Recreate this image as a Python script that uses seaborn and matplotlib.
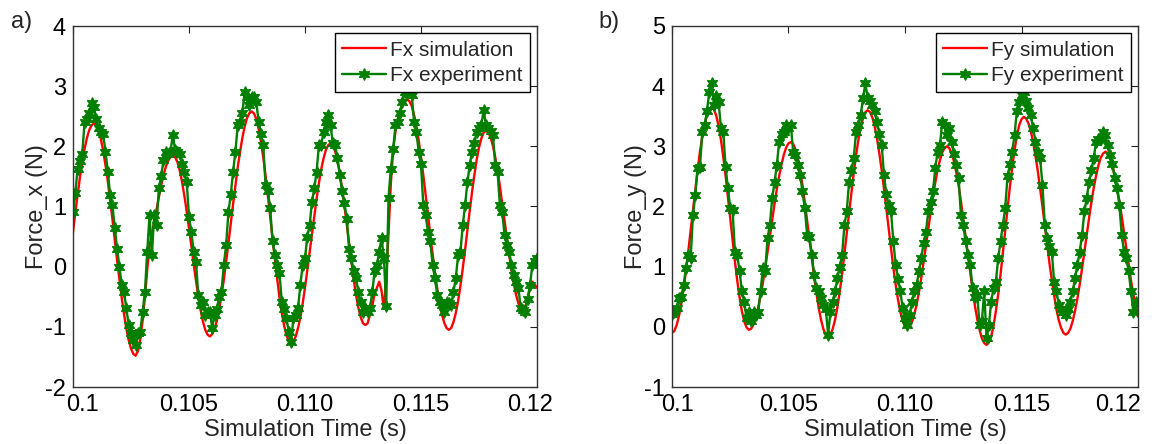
import numpy as np
import matplotlib
matplotlib.use("Agg")
import matplotlib.pyplot as plt
import matplotlib.transforms as mtransforms
import seaborn as sns

# ---------------- data ----------------
# sampling times (s), one sample every 0.1 ms
time_s = np.round(np.linspace(0.1000, 0.1200, 201), 4)

fx_simulation = [
    0.57, 0.90, 1.20, 1.49, 1.74, 1.96, 2.14, 2.27, 2.35, 2.38,
    2.35, 2.26, 2.12, 1.93, 1.69, 1.42, 1.11, 0.79, 0.45, 0.11,
    -0.21, -0.52, -0.79, -1.03, -1.22, -1.36, -1.45, -1.48, -1.40, -1.20,
    -0.90, -0.50, -0.05, 0.35, 0.55, 0.75, 0.95, 1.15, 1.35, 1.52,
    1.66, 1.76, 1.82, 1.85, 1.82, 1.74, 1.60, 1.41, 1.18, 0.92,
    0.64, 0.35, 0.05, -0.23, -0.49, -0.72, -0.91, -1.05, -1.13, -1.16,
    -1.12, -1.04, -0.90, -0.71, -0.48, -0.22, 0.08, 0.39, 0.72, 1.04,
    1.35, 1.65, 1.91, 2.14, 2.33, 2.47, 2.55, 2.58, 2.55, 2.45,
    2.29, 2.08, 1.82, 1.51, 1.18, 0.83, 0.48, 0.13, -0.20, -0.51,
    -0.77, -0.98, -1.14, -1.24, -1.27, -1.24, -1.16, -1.02, -0.84, -0.61,
    -0.35, -0.06, 0.24, 0.54, 0.84, 1.13, 1.39, 1.62, 1.80, 1.94,
    2.02, 2.05, 2.02, 1.92, 1.76, 1.55, 1.30, 1.01, 0.70, 0.38,
    0.07, -0.22, -0.47, -0.68, -0.84, -0.94, -0.97, -0.94, -0.80, -0.65,
    -0.45, -0.35, -0.25, -0.40, -0.70, -0.20, 0.55, 1.38, 1.94, 2.25,
    2.45, 2.60, 2.70, 2.76, 2.78, 2.75, 2.67, 2.52, 2.33, 2.10,
    1.82, 1.52, 1.20, 0.87, 0.53, 0.21, -0.09, -0.37, -0.60, -0.79,
    -0.93, -1.02, -1.05, -1.02, -0.92, -0.77, -0.57, -0.32, -0.03, 0.28,
    0.61, 0.93, 1.24, 1.52, 1.78, 1.98, 2.13, 2.23, 2.26, 2.23,
    2.15, 2.01, 1.82, 1.60, 1.34, 1.06, 0.77, 0.48, 0.20, -0.06,
    -0.28, -0.47, -0.61, -0.69, -0.72, -0.66, -0.52, -0.36, -0.25, -0.30,
    -0.35,
]

fx_experiment = [
    0.91, 1.22, 1.63, 1.75, 1.88, 2.41, 2.45, 2.55, 2.72, 2.66,
    2.45, 2.30, 2.24, 2.20, 1.91, 1.58, 1.19, 1.02, 0.64, 0.30,
    0.00, -0.30, -0.42, -0.69, -0.97, -1.11, -1.22, -1.30, -1.10, -1.08,
    -0.75, -0.42, 0.25, 0.86, 0.19, 0.86, 0.69, 1.30, 1.50, 1.77,
    1.91, 1.88, 1.90, 2.19, 1.94, 1.90, 1.88, 1.70, 1.58, 1.41,
    0.83, 0.58, 0.25, 0.08, -0.47, -0.64, -0.58, -0.80, -0.75, -0.75,
    -1.02, -0.80, -0.70, -0.50, -0.42, 0.03, 0.36, 0.91, 1.20, 1.58,
    1.91, 2.35, 2.41, 2.55, 2.91, 2.82, 2.69, 2.82, 2.82, 2.74,
    2.41, 2.20, 2.02, 1.36, 1.25, 0.97, 0.42, 0.19, 0.03, -0.11,
    -0.58, -0.70, -0.86, -1.08, -1.25, -0.86, -0.80, -0.69, -0.30, 0.03,
    0.14, 0.50, 0.69, 1.08, 1.30, 1.58, 2.02, 2.02, 2.24, 2.40,
    2.52, 2.35, 2.05, 2.02, 1.80, 1.52, 1.25, 1.05, 0.80, 0.30,
    0.14, -0.08, -0.19, -0.42, -0.58, -0.75, -0.69, -0.75, -0.69, -0.42,
    -0.08, 0.03, 0.25, 0.47, 0.14, -0.66, 1.14, 1.63, 1.95, 2.35,
    2.41, 2.55, 2.74, 2.91, 2.88, 2.91, 2.85, 2.41, 2.24, 1.91,
    1.70, 1.02, 0.86, 0.58, 0.42, 0.03, -0.19, -0.47, -0.58, -0.64,
    -0.75, -0.58, -0.60, -0.64, -0.42, -0.19, 0.19, 0.25, 0.69, 1.02,
    1.40, 1.69, 1.91, 2.05, 2.24, 2.30, 2.35, 2.60, 2.35, 2.30,
    2.25, 2.19, 1.69, 1.58, 1.02, 0.91, 0.53, 0.36, 0.25, 0.03,
    -0.14, -0.25, -0.36, -0.69, -0.72, -0.75, -0.53, -0.30, 0.03, 0.10,
    0.14,
]

fy_simulation = [
    -0.10, -0.07, 0.03, 0.18, 0.39, 0.64, 0.94, 1.26, 1.60, 1.95,
    2.29, 2.61, 2.91, 3.16, 3.37, 3.52, 3.62, 3.65, 3.61, 3.51,
    3.34, 3.11, 2.83, 2.51, 2.16, 1.80, 1.44, 1.09, 0.77, 0.49,
    0.26, 0.09, -0.01, -0.05, -0.03, 0.04, 0.16, 0.32, 0.51, 0.73,
    0.98, 1.24, 1.51, 1.78, 2.04, 2.29, 2.51, 2.70, 2.86, 2.98,
    3.05, 3.07, 3.04, 2.95, 2.80, 2.60, 2.35, 2.07, 1.77, 1.46,
    1.14, 0.84, 0.56, 0.31, 0.11, -0.04, -0.13, -0.16, -0.13, -0.03,
    0.12, 0.33, 0.59, 0.88, 1.21, 1.55, 1.89, 2.24, 2.56, 2.85,
    3.11, 3.32, 3.47, 3.57, 3.60, 3.57, 3.48, 3.33, 3.13, 2.88,
    2.60, 2.29, 1.96, 1.62, 1.29, 0.98, 0.70, 0.45, 0.25, 0.10,
    0.01, -0.02, 0.01, 0.08, 0.21, 0.37, 0.58, 0.82, 1.08, 1.35,
    1.63, 1.90, 2.16, 2.40, 2.61, 2.77, 2.90, 2.97, 3.00, 2.97,
    2.89, 2.75, 2.57, 2.35, 2.09, 1.80, 1.50, 1.20, 0.90, 0.61,
    0.35, 0.13, -0.05, -0.19, -0.27, -0.30, -0.26, -0.16, 0.02, 0.26,
    0.54, 0.87, 1.23, 1.60, 1.96, 2.32, 2.65, 2.93, 3.17, 3.35,
    3.45, 3.49, 3.46, 3.38, 3.25, 3.07, 2.84, 2.59, 2.30, 2.00,
    1.68, 1.37, 1.06, 0.78, 0.52, 0.29, 0.11, -0.02, -0.10, -0.13,
    -0.10, -0.03, 0.10, 0.27, 0.47, 0.71, 0.97, 1.25, 1.53, 1.81,
    2.07, 2.31, 2.51, 2.68, 2.81, 2.88, 2.91, 2.89, 2.81, 2.69,
    2.52, 2.32, 2.09, 1.84, 1.57, 1.29, 1.02, 0.77, 0.54, 0.34,
    0.17,
]

fy_experiment = [
    0.22, 0.25, 0.31, 0.48, 0.50, 0.70, 0.97, 1.20, 1.14, 1.86,
    2.19, 2.64, 2.66, 3.24, 3.36, 3.58, 3.91, 4.05, 3.69, 3.83,
    3.74, 3.30, 3.24, 2.66, 2.30, 1.97, 1.94, 1.25, 1.20, 0.92,
    0.59, 0.42, 0.14, 0.25, 0.09, 0.25, 0.20, 0.25, 0.59, 0.97,
    0.92, 1.47, 1.69, 2.14, 2.40, 2.69, 3.08, 3.20, 3.24, 3.36,
    3.30, 3.36, 2.91, 2.86, 2.69, 2.52, 2.25, 1.97, 1.53, 1.50,
    1.20, 0.86, 0.64, 0.60, 0.48, 0.37, 0.30, -0.13, 0.25, 0.42,
    0.59, 0.81, 1.00, 1.20, 1.69, 1.92, 2.41, 2.60, 2.80, 3.24,
    3.36, 3.52, 3.80, 4.05, 3.80, 3.75, 3.69, 3.58, 3.41, 3.20,
    3.02, 2.52, 2.20, 2.03, 1.92, 1.42, 1.03, 0.80, 0.59, 0.31,
    0.14, 0.03, 0.20, 0.42, 0.59, 0.70, 0.92, 1.14, 1.40, 1.58,
    1.92, 2.08, 2.25, 2.64, 2.91, 3.02, 3.41, 3.36, 3.19, 3.30,
    3.08, 2.88, 2.69, 2.47, 1.86, 1.69, 1.42, 1.20, 1.03, 0.64,
    0.50, 0.53, 0.03, 0.09, 0.59, -0.19, 0.03, 0.42, 0.64, 0.75,
    1.14, 1.42, 1.70, 1.97, 2.50, 2.70, 2.91, 3.19, 3.58, 3.74,
    3.85, 3.91, 3.75, 3.63, 3.52, 3.30, 3.08, 2.91, 2.80, 2.36,
    1.69, 1.47, 1.35, 1.25, 0.75, 0.59, 0.37, 0.30, 0.25, 0.20,
    0.30, 0.42, 0.59, 0.81, 1.03, 1.25, 1.53, 1.92, 2.14, 2.41,
    2.60, 2.80, 3.08, 3.13, 3.13, 3.24, 3.19, 3.02, 2.86, 2.70,
    2.47, 2.30, 2.03, 1.53, 1.25, 1.14, 0.92, 0.59, 0.25, 0.42,
    0.40,
]

x_ticks = [0.100, 0.105, 0.110, 0.115, 0.120]
x_tick_labels = ["0.1", "0.105", "0.110", "0.115", "0.12"]
fx_ticks = [-2, -1, 0, 1, 2, 3, 4]
fy_ticks = [-1, 0, 1, 2, 3, 4, 5]

# ---------------- style ----------------
sns.set_style("white")
plt.rcParams["font.family"] = ["Liberation Sans", "DejaVu Sans"]
plt.rcParams["legend.numpoints"] = 1

SIM_COLOR = "#ff0000"
EXP_COLOR = "#007f00"
STAR = (6, 1, 0)

fig = plt.figure(figsize=(11.56, 4.44), dpi=100)
ax_a = fig.add_axes([73 / 1156, 57 / 444, 464 / 1156, 361 / 444])
ax_b = fig.add_axes([672 / 1156, 57 / 444, 466 / 1156, 361 / 444])


def draw(ax, sim, exp, comp, yticks, first_shift, last_shift):
    sns.lineplot(x=time_s, y=sim, ax=ax, color=SIM_COLOR, linewidth=1.7,
                 label=f"{comp} simulation", estimator=None, sort=False)
    sns.lineplot(x=time_s, y=exp, ax=ax, color=EXP_COLOR, linewidth=1.7,
                 marker=STAR, markersize=8.5, markeredgecolor=EXP_COLOR,
                 markerfacecolor=EXP_COLOR, markeredgewidth=0.9,
                 label=f"{comp} experiment", estimator=None, sort=False)
    ax.set_xlim(0.1, 0.12)
    ax.set_ylim(yticks[0], yticks[-1])
    ax.set_xticks(x_ticks)
    ax.set_xticklabels(x_tick_labels)
    ax.set_yticks(yticks)
    ax.set_yticklabels([str(v) for v in yticks])
    ax.tick_params(direction="in", top=True, right=True, length=5, width=0.8,
                   labelsize=17, pad=5, colors="#222222", labelcolor="black")
    labels = ax.get_xticklabels()
    labels[0].set_transform(labels[0].get_transform() +
                            mtransforms.ScaledTranslation(first_shift / 100, 0, fig.dpi_scale_trans))
    labels[-1].set_transform(labels[-1].get_transform() +
                             mtransforms.ScaledTranslation(last_shift / 100, 0, fig.dpi_scale_trans))
    for s in ax.spines.values():
        s.set_visible(True)
        s.set_color("#333333")
        s.set_linewidth(1.0)
    ax.set_xlabel("Simulation Time (s)", fontsize=17, labelpad=2)
    ax.set_ylabel(f"Force_{comp[-1]} (N)", fontsize=17, labelpad=-2)
    leg = ax.legend(loc="upper right", fontsize=15, frameon=True, fancybox=False,
                    framealpha=1, edgecolor="black", handlelength=2.1,
                    handletextpad=0.2, borderpad=0.35, labelspacing=0.3,
                    borderaxespad=0.35)
    leg.get_frame().set_linewidth(1.0)


draw(ax_a, fx_simulation, fx_experiment, "Fx", fx_ticks, 10, -7)
draw(ax_b, fy_simulation, fy_experiment, "Fy", fy_ticks, 6, -20)

fig.text(11 / 1156, 1 - 28 / 444, "a)", fontsize=17, va="baseline", ha="left")
fig.text(598 / 1156, 1 - 28 / 444, "b)", fontsize=17, va="baseline", ha="left")

fig.savefig("out.png", dpi=100)
